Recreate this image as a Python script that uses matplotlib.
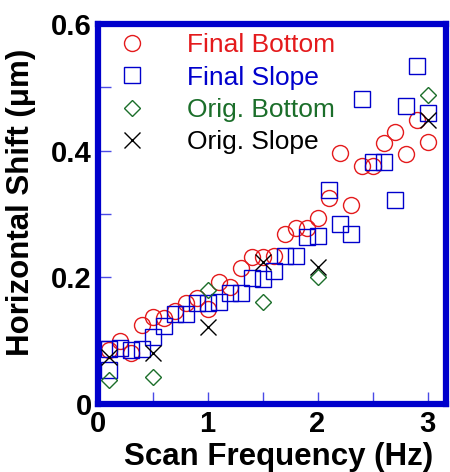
import numpy as np
import matplotlib
matplotlib.use("Agg")
from matplotlib import pyplot as plt
from matplotlib.ticker import MultipleLocator

plt.rcParams['font.family'] = ['Liberation Sans', 'DejaVu Sans']

# Final Bottom (red circles)
fb_x = [0.1, 0.2, 0.3, 0.4, 0.5, 0.6, 0.7, 0.8, 0.9, 1.0,
        1.1, 1.2, 1.3, 1.4, 1.5, 1.6, 1.7, 1.8, 1.9, 2.0,
        2.1, 2.2, 2.3, 2.4, 2.5, 2.6, 2.7, 2.8, 2.9, 3.0]
fb_y = [0.085, 0.100, 0.080, 0.125, 0.137, 0.136, 0.147, 0.160, 0.167, 0.150,
        0.193, 0.185, 0.215, 0.232, 0.232, 0.233, 0.268, 0.278, 0.278, 0.294,
        0.325, 0.396, 0.314, 0.376, 0.376, 0.412, 0.429, 0.395, 0.449, 0.414]

# Final Slope (blue squares)
fs_x = [0.1, 0.1, 0.2, 0.3, 0.4, 0.5, 0.6, 0.7, 0.8, 0.9, 1.0,
        1.1, 1.2, 1.3, 1.4, 1.5, 1.6, 1.7, 1.8, 1.9, 2.0,
        2.1, 2.2, 2.3, 2.4, 2.5, 2.6, 2.7, 2.8, 2.9, 3.0]
fs_y = [0.087, 0.054, 0.089, 0.085, 0.087, 0.106, 0.124, 0.142, 0.142, 0.160, 0.160,
        0.161, 0.176, 0.176, 0.199, 0.197, 0.210, 0.233, 0.233, 0.264, 0.265,
        0.338, 0.284, 0.268, 0.481, 0.382, 0.382, 0.322, 0.470, 0.534, 0.459]

# Orig. Bottom (green diamonds)
ob_x = [0.1, 0.5, 1.0, 1.5, 2.0, 3.0]
ob_y = [0.038, 0.043, 0.180, 0.161, 0.200, 0.488]

# Orig. Slope (black crosses)
os_x = [0.1, 0.5, 1.0, 1.5, 2.0, 3.0]
os_y = [0.075, 0.080, 0.122, 0.225, 0.216, 0.449]

red = '#e41a1c'
blue = '#0000cc'
green = '#1b6e2a'

fig = plt.figure(figsize=(4.5, 4.72), dpi=100)
ax = fig.add_axes([0.2167, 0.144, 0.775, 0.805])

ms = 11.5
ax.plot(fb_x, fb_y, 'o', ms=ms, mfc='none', mec=red, mew=1, label='Final Bottom')
ax.plot(fs_x, fs_y, 's', ms=ms, mfc='none', mec=blue, mew=1, label='Final Slope')
ax.plot(ob_x, ob_y, 'D', ms=8.5, mfc='none', mec=green, mew=1, label='Orig. Bottom')
ax.plot(os_x, os_y, 'x', ms=ms, mec='black', mew=1, label='Orig. Slope')

ax.set_xlim(0, 3.17)
ax.set_ylim(0, 0.6)

ax.xaxis.set_major_locator(MultipleLocator(1))
ax.xaxis.set_minor_locator(MultipleLocator(0.5))
ax.yaxis.set_major_locator(MultipleLocator(0.2))
ax.yaxis.set_minor_locator(MultipleLocator(0.1))
ax.xaxis.set_major_formatter(plt.FuncFormatter(lambda v, p: '%g' % v))
ax.yaxis.set_major_formatter(plt.FuncFormatter(lambda v, p: '%g' % v))

ax.tick_params(which='both', direction='in', length=9, width=1, color='#4a4ae6',
               top=False, right=False)
ax.tick_params(which='major', labelsize=21, pad=4)
for lab in ax.get_xticklabels() + ax.get_yticklabels():
    lab.set_fontweight('bold')

for sp in ax.spines.values():
    sp.set_color(blue)
    sp.set_linewidth(4.5)

ax.set_xlabel('Scan Frequency (Hz)', fontsize=22.5, fontweight='bold')
ax.set_ylabel('Horizontal Shift (μm)', fontsize=22.5, fontweight='bold')
ax.xaxis.set_label_coords(0.52, -0.1)
ax.yaxis.set_label_coords(-0.175, 0.53)

leg = ax.legend(loc='upper left', bbox_to_anchor=(0.015, 1.018), frameon=False,
                fontsize=19, numpoints=1, handlelength=1.0, handletextpad=1.6,
                labelspacing=0.32, borderaxespad=0.2,
                labelcolor=[red, blue, green, 'black'])

fig.savefig('out.png', dpi=100)
